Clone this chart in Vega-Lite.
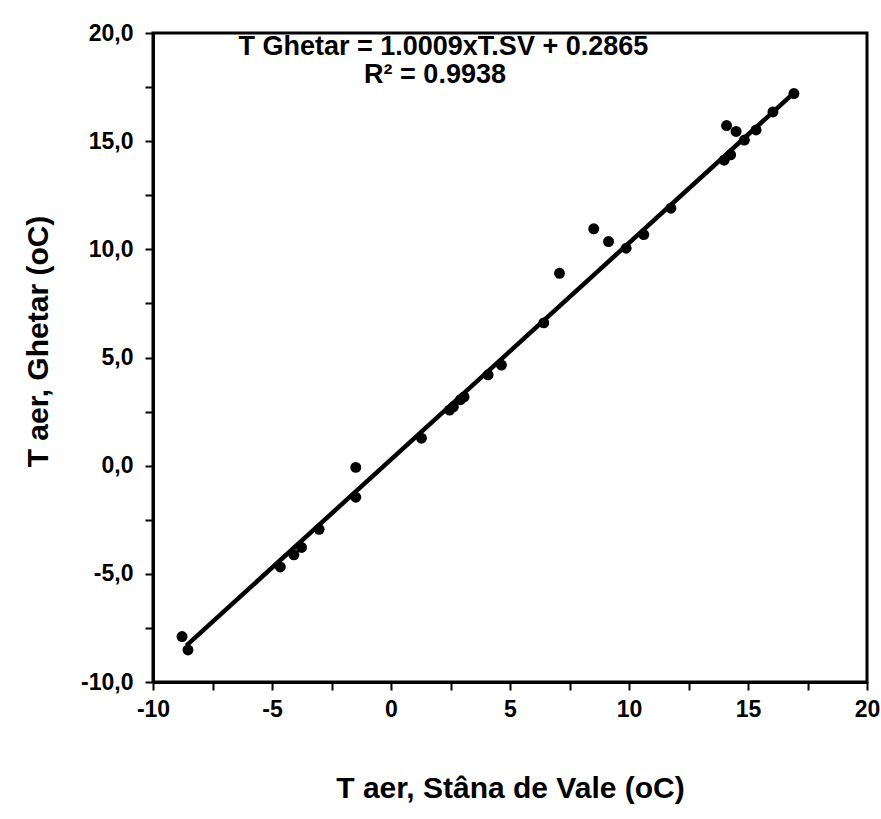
{
  "$schema": "https://vega.github.io/schema/vega-lite/v6.json",
  "width": 714,
  "height": 649,
  "autosize": {"type": "none"},
  "padding": {"left": 153, "top": 33, "right": 14, "bottom": 137},
  "background": "white",
  "config": {
    "view": {"stroke": "black", "strokeWidth": 3},
    "font": "Liberation Sans",
    "axis": {
      "domainColor": "black", "domainWidth": 3,
      "tickColor": "black", "tickWidth": 2, "tickSize": 8,
      "labelColor": "black", "labelFont": "Liberation Sans", "labelFontWeight": "bold", "labelFontSize": 23,
      "titleColor": "black", "titleFont": "Liberation Sans", "titleFontWeight": "bold", "titleFontSize": 30,
      "grid": false
    }
  },
  "datasets": {
    "pts": [
      {"sv": -8.78, "gh": -7.9},
      {"sv": -8.53, "gh": -8.52},
      {"sv": -4.65, "gh": -4.68},
      {"sv": -4.08, "gh": -4.12},
      {"sv": -3.76, "gh": -3.78},
      {"sv": -3.02, "gh": -2.94},
      {"sv": -1.48, "gh": -0.08},
      {"sv": -1.48, "gh": -1.46},
      {"sv": 1.28, "gh": 1.27},
      {"sv": 2.46, "gh": 2.57},
      {"sv": 2.62, "gh": 2.72},
      {"sv": 2.92, "gh": 3.05},
      {"sv": 3.07, "gh": 3.18},
      {"sv": 4.08, "gh": 4.2},
      {"sv": 4.64, "gh": 4.65},
      {"sv": 6.42, "gh": 6.6},
      {"sv": 7.08, "gh": 8.89},
      {"sv": 8.52, "gh": 10.95},
      {"sv": 9.14, "gh": 10.36},
      {"sv": 9.88, "gh": 10.05},
      {"sv": 10.62, "gh": 10.68},
      {"sv": 11.76, "gh": 11.9},
      {"sv": 14.0, "gh": 14.12},
      {"sv": 14.27, "gh": 14.37},
      {"sv": 14.1, "gh": 15.72},
      {"sv": 14.5, "gh": 15.45},
      {"sv": 14.85, "gh": 15.05},
      {"sv": 15.34, "gh": 15.52},
      {"sv": 16.05, "gh": 16.35},
      {"sv": 16.93, "gh": 17.2}
    ],
    "fit": [
      {"sv": -8.6, "gh": -8.321},
      {"sv": 17.0, "gh": 17.302}
    ],
    "txt": [
      {"sv": 2.2, "gh": 19.35, "label": "T Ghetar = 1.0009xT.SV + 0.2865"},
      {"sv": 1.85, "gh": 18.05, "label": "R² = 0.9938"}
    ]
  },
  "layer": [
    {
      "data": {"name": "pts"},
      "mark": {"type": "circle", "color": "black", "opacity": 1, "size": 120},
      "encoding": {
        "x": {
          "field": "sv", "type": "quantitative",
          "scale": {"domain": [-10, 20], "nice": false, "zero": false},
          "axis": {
            "title": "T aer, Stâna de Vale (oC)",
            "values": [-10, -7.5, -5, -2.5, 0, 2.5, 5, 7.5, 10, 12.5, 15, 17.5, 20],
            "labelExpr": "datum.value % 5 == 0 ? replace(format(datum.value, 'd'), '\u2212', '-') : ''",
            "labelPadding": 8,
            "titlePadding": 52,
            "labelFlush": false,
            "labelOverlap": false
          }
        },
        "y": {
          "field": "gh", "type": "quantitative",
          "scale": {"domain": [-10, 20], "nice": false, "zero": false},
          "axis": {
            "title": "T aer, Ghetar (oC)",
            "values": [-10, -7.5, -5, -2.5, 0, 2.5, 5, 7.5, 10, 12.5, 15, 17.5, 20],
            "labelExpr": "datum.value % 5 == 0 ? replace(replace(format(datum.value, '.1f'), '.', ','), '\u2212', '-') : ''",
            "labelPadding": 12,
            "titlePadding": 27,
            "titleY": 308,
            "labelFlush": false,
            "labelOverlap": false
          }
        }
      }
    },
    {
      "data": {"name": "fit"},
      "mark": {"type": "line", "color": "black", "strokeWidth": 4.5},
      "encoding": {
        "x": {"field": "sv", "type": "quantitative"},
        "y": {"field": "gh", "type": "quantitative"}
      }
    },
    {
      "data": {"name": "txt"},
      "mark": {"type": "text", "font": "Liberation Sans", "fontWeight": "bold", "fontSize": 27, "color": "black", "align": "center", "baseline": "middle"},
      "encoding": {
        "x": {"field": "sv", "type": "quantitative"},
        "y": {"field": "gh", "type": "quantitative"},
        "text": {"field": "label"}
      }
    }
  ]
}
